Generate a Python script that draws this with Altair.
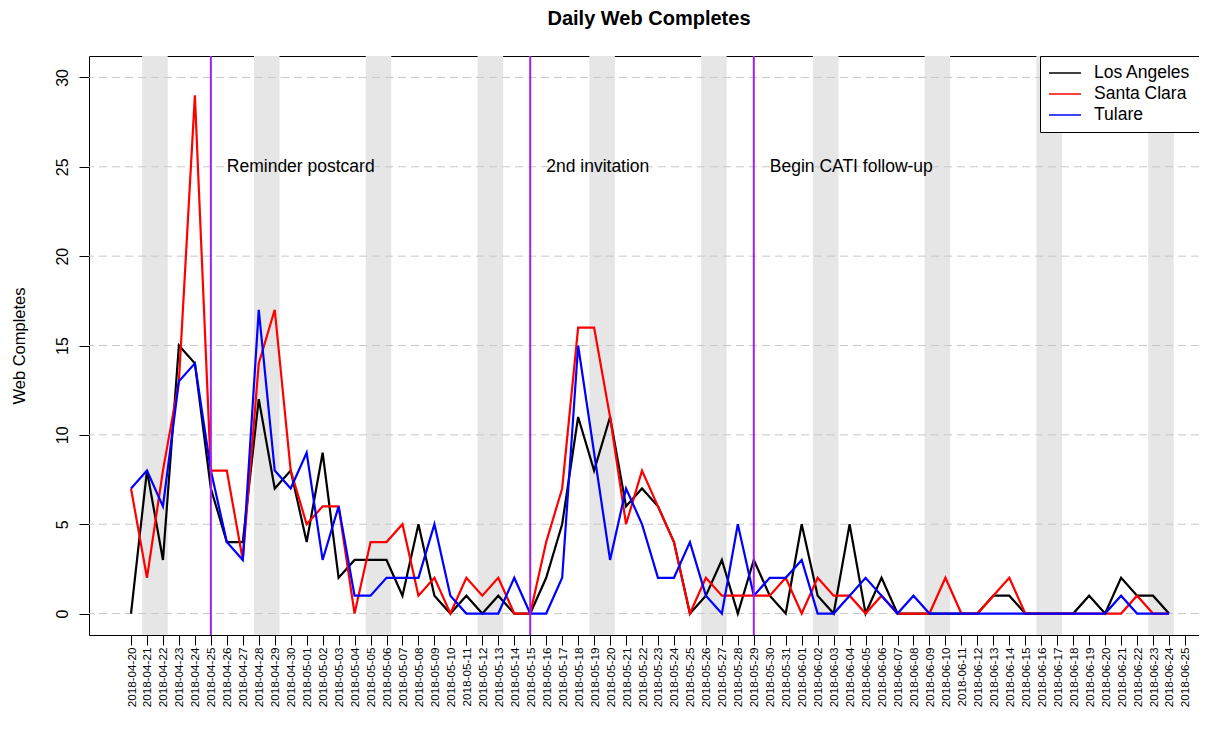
import altair as alt
import pandas as pd

# ---------------- data ----------------
start_date = "2018-04-20"
end_date = "2018-06-24"      # last day with data
tick_end = "2018-06-25"      # last tick label

series_names = ["Los Angeles", "Santa Clara", "Tulare"]
series_colors = ["#000000", "#FF0000", "#0000FF"]

los_angeles = [0, 8, 3, 15, 14, 7, 4, 4, 12, 7,
               8, 4, 9, 2, 3, 3, 3, 1, 5, 1,
               0, 1, 0, 1, 0, 0, 2, 5, 11, 8,
               11, 6, 7, 6, 4, 0, 1, 3, 0, 3,
               1, 0, 5, 1, 0, 5, 0, 2, 0, 0,
               0, 0, 0, 0, 1, 1, 0, 0, 0, 0,
               1, 0, 2, 1, 1, 0]
santa_clara = [7, 2, 8, 13, 29, 8, 8, 3, 14, 17,
               8, 5, 6, 6, 0, 4, 4, 5, 1, 2,
               0, 2, 1, 2, 0, 0, 4, 7, 16, 16,
               11, 5, 8, 6, 4, 0, 2, 1, 1, 1,
               1, 2, 0, 2, 1, 1, 0, 1, 0, 0,
               0, 2, 0, 0, 1, 2, 0, 0, 0, 0,
               0, 0, 0, 1, 0, 0]
tulare = [7, 8, 6, 13, 14, 8, 4, 3, 17, 8,
          7, 9, 3, 6, 1, 1, 2, 2, 2, 5,
          1, 0, 0, 0, 2, 0, 0, 2, 15, 9,
          3, 7, 5, 2, 2, 4, 1, 0, 5, 1,
          2, 2, 3, 0, 0, 1, 2, 1, 0, 1,
          0, 0, 0, 0, 0, 0, 0, 0, 0, 0,
          0, 0, 1, 0, 0, 0]

event_dates = ["2018-04-25", "2018-05-15", "2018-05-29"]
event_labels = ["Reminder postcard", "2nd invitation", "Begin CATI follow-up"]
event_label_y = 25

y_ticks = [0, 5, 10, 15, 20, 25, 30]

# ---------------- build tables ----------------
FMT = "%Y-%m-%dT%H:%M:%S"
days = pd.date_range(start_date, end_date, freq="D")
tick_days = pd.date_range(start_date, tick_end, freq="D")

rows = []
for name, vals in zip(series_names, [los_angeles, santa_clara, tulare]):
    for d, v in zip(days, vals):
        rows.append({"date": d.strftime(FMT), "county": name, "completes": v})
df = pd.DataFrame(rows)

saturdays = [d for d in days if d.dayofweek == 5]
bands_df = pd.DataFrame({
    "start": [(d - pd.Timedelta(hours=7.2)).strftime(FMT) for d in saturdays],
    "end": [(d + pd.Timedelta(days=1, hours=7.2)).strftime(FMT) for d in saturdays],
})

events_df = pd.DataFrame({
    "date": [pd.Timestamp(d).strftime(FMT) for d in event_dates],
    "label_date": [(pd.Timestamp(d) + pd.Timedelta(days=1)).strftime(FMT) for d in event_dates],
    "label": event_labels,
    "y": [event_label_y] * len(event_dates),
})

grid_df = pd.DataFrame({"v": y_ticks})


def dt(ts):
    return alt.DateTime(year=ts.year, month=ts.month, date=ts.day,
                        hours=ts.hour, minutes=ts.minute)


first = pd.Timestamp(start_date)
x_scale = alt.Scale(domain=[dt(first - pd.Timedelta(days=2.63)),
                            dt(first + pd.Timedelta(days=66.88))], nice=False)
y_scale = alt.Scale(domain=[-1.2, 31.2], nice=False, zero=False)

FONT = "Liberation Sans"

x_axis = alt.Axis(values=[dt(d) for d in tick_days], format="%Y-%m-%d",
                  labelAngle=270, labelAlign="right", labelBaseline="middle",
                  labelPadding=2, tickSize=10, tickColor="black", tickWidth=1,
                  domain=False, grid=False, labelFont=FONT, labelFontSize=11.7,
                  labelColor="black", labelOverlap=False, labelFlush=False,
                  labelBound=False)

y_axis = alt.Axis(values=y_ticks, labelAngle=270, labelAlign="center",
                  labelBaseline="alphabetic", labelPadding=12, tickSize=10,
                  tickColor="black", tickWidth=1, domain=False, grid=False,
                  labelFont=FONT, labelFontSize=16, labelColor="black",
                  title="Web Completes", titleFont=FONT, titleFontSize=16.5,
                  titleFontWeight="normal", titleColor="black", titleAngle=270,
                  titleX=-70, titleY=289.5, titleAlign="center",
                  titleBaseline="middle")


def X(field):
    return alt.X(field, type="temporal", scale=x_scale, axis=x_axis, title=None)


def Y(field):
    return alt.Y(field, type="quantitative", scale=y_scale, axis=y_axis,
                 title="Web Completes")


bands = alt.Chart(bands_df).mark_rect(color="#E6E6E6").encode(
    x=X("start"), x2="end")

grid = alt.Chart(grid_df).mark_rule(color="#C8C8C8", strokeWidth=1,
                                    strokeDash=[8, 5]).encode(y=Y("v"))

lines = alt.Chart(df).mark_line(strokeWidth=2.2).encode(
    x=X("date"), y=Y("completes"),
    color=alt.Color("county:N",
                    scale=alt.Scale(domain=series_names, range=series_colors),
                    legend=alt.Legend(title=None, orient="top-right", offset=0,
                                      strokeColor="black", fillColor="white",
                                      padding=8, symbolType="M-1,0H3",
                                      symbolSize=256, symbolStrokeWidth=1.5,
                                      labelFontSize=17.5, labelFont=FONT,
                                      labelColor="black", rowPadding=3,
                                      labelOffset=28, cornerRadius=0)),
)

event_rules = alt.Chart(events_df).mark_rule(color="#A020F0", strokeWidth=2).encode(
    x=X("date"))

event_text = alt.Chart(events_df).mark_text(
    align="left", baseline="middle", font=FONT, fontSize=17.5, color="black"
).encode(x=X("label_date"), y=Y("y"), text="label:N")

chart = alt.layer(bands, grid, lines, event_rules, event_text).properties(
    width=1110, height=579,
    title=alt.TitleParams("Daily Web Completes", fontSize=20, fontWeight="bold",
                          font=FONT, color="black", anchor="middle", offset=26,
                          dx=5),
    autosize=alt.AutoSizeParams(type="none"),
    padding={"left": 81, "top": 48, "right": 0, "bottom": 91},
).configure_view(stroke="black", strokeWidth=1)

chart.save("out.html", embed_options={"renderer": "svg", "actions": False})
